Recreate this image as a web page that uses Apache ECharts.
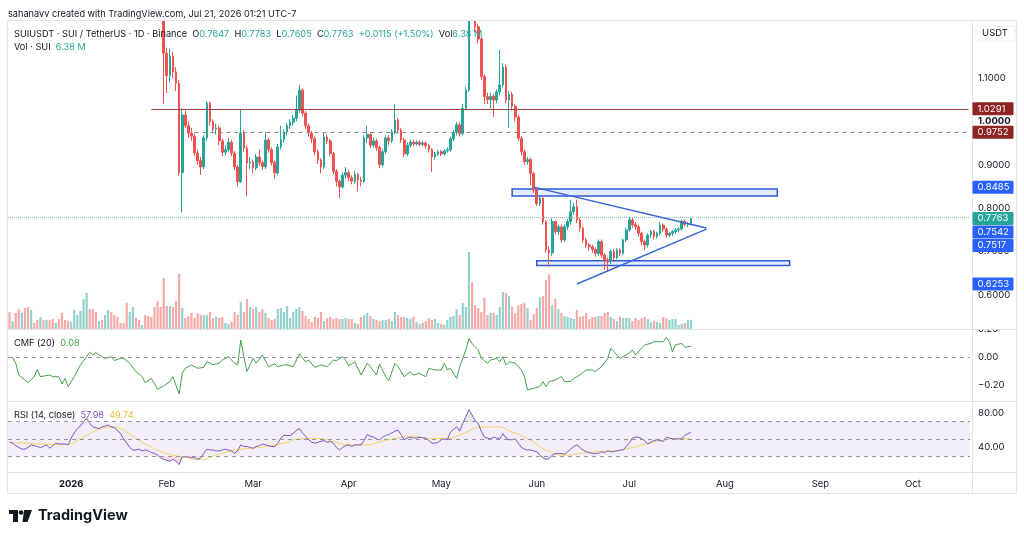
<!DOCTYPE html>
<html>
<head>
<meta charset="utf-8">
<script src="https://cdn.jsdelivr.net/npm/echarts@6/dist/echarts.min.js"></script>
<style>
  html, body { margin: 0; padding: 0; background: #fff; }
  #main { width: 1024px; height: 539px; }
</style>
</head>
<body>
<div id="main"></div>
<script>
// ---- data (daily, from 2025-12-12) ----
const opens = [
  1.640,1.620,1.632,1.600,1.560,1.575,1.540,1.505,1.530,1.520,
  1.505,1.515,1.500,1.512,1.490,1.482,1.500,1.495,1.488,1.485,
  1.478,1.530,1.600,1.660,1.700,1.800,1.880,1.820,1.790,1.775,
  1.785,1.780,1.800,1.830,1.800,1.785,1.750,1.700,1.620,1.540,
  1.560,1.570,1.540,1.520,1.530,1.500,1.480,1.450,1.400,1.350,
  1.290,1.157,1.105,1.150,1.114,1.088,0.882,1.015,0.990,0.973,
  0.966,0.927,0.910,0.895,0.962,1.042,1.000,0.982,0.985,0.955,
  0.929,0.935,0.952,0.927,0.895,0.861,0.973,0.938,0.904,0.906,
  0.893,0.918,0.905,0.896,0.957,0.935,0.905,0.881,0.941,0.958,
  0.975,0.990,0.998,1.007,1.026,1.072,1.019,0.990,0.973,0.960,
  0.930,0.911,0.895,0.964,0.955,0.926,0.885,0.862,0.849,0.876,
  0.882,0.870,0.862,0.878,0.865,0.862,0.962,0.970,0.945,0.955,
  0.940,0.900,0.930,0.962,0.955,0.976,1.003,0.980,0.957,0.925,
  0.945,0.952,0.948,0.952,0.947,0.950,0.944,0.935,0.918,0.925,
  0.930,0.925,0.932,0.935,0.960,0.975,0.992,0.972,1.030,1.072,
  1.270,1.250,1.218,1.190,1.103,1.057,1.050,1.058,1.049,1.068,
  1.084,1.125,1.049,1.062,1.035,1.010,0.961,0.930,0.907,0.912,
  0.880,0.842,0.811,0.823,0.769,0.704,0.697,0.769,0.746,0.757,
  0.727,0.757,0.769,0.792,0.803,0.773,0.754,0.727,0.715,0.711,
  0.705,0.696,0.723,0.692,0.681,0.677,0.700,0.686,0.704,0.696,
  0.727,0.750,0.773,0.762,0.757,0.742,0.723,0.715,0.738,0.746,
  0.735,0.742,0.761,0.752,0.738,0.742,0.746,0.750,0.752,0.770,
  0.762,0.7647
];
const closes = [
  1.620,1.632,1.600,1.560,1.575,1.540,1.505,1.530,1.520,1.505,
  1.515,1.500,1.512,1.490,1.482,1.500,1.495,1.488,1.485,1.478,
  1.530,1.600,1.660,1.700,1.800,1.880,1.820,1.790,1.775,1.785,
  1.780,1.800,1.830,1.800,1.785,1.750,1.700,1.620,1.540,1.560,
  1.570,1.540,1.520,1.530,1.500,1.480,1.450,1.400,1.350,1.290,
  1.157,1.105,1.150,1.114,1.088,0.882,1.015,0.990,0.973,0.966,
  0.927,0.910,0.895,0.962,1.042,1.000,0.982,0.985,0.955,0.929,
  0.935,0.952,0.927,0.895,0.861,0.973,0.938,0.904,0.906,0.893,
  0.918,0.905,0.896,0.957,0.935,0.905,0.881,0.941,0.958,0.975,
  0.990,0.998,1.007,1.026,1.072,1.019,0.990,0.973,0.960,0.930,
  0.911,0.895,0.964,0.955,0.926,0.885,0.862,0.849,0.876,0.882,
  0.870,0.862,0.878,0.865,0.862,0.962,0.970,0.945,0.955,0.940,
  0.900,0.930,0.962,0.955,0.976,1.003,0.980,0.957,0.925,0.945,
  0.952,0.948,0.952,0.947,0.950,0.944,0.935,0.918,0.925,0.930,
  0.925,0.932,0.935,0.960,0.975,0.992,0.972,1.030,1.072,1.270,
  1.250,1.218,1.190,1.103,1.057,1.050,1.058,1.049,1.068,1.084,
  1.125,1.049,1.062,1.035,1.010,0.961,0.930,0.907,0.912,0.880,
  0.842,0.811,0.823,0.769,0.704,0.697,0.769,0.746,0.757,0.727,
  0.757,0.769,0.792,0.803,0.773,0.754,0.727,0.715,0.711,0.705,
  0.696,0.723,0.692,0.681,0.677,0.700,0.686,0.704,0.696,0.727,
  0.750,0.773,0.762,0.757,0.742,0.723,0.715,0.738,0.746,0.735,
  0.742,0.761,0.752,0.738,0.742,0.746,0.750,0.752,0.770,0.762,
  0.7647,0.7763
];
const lows = [
  1.610,1.605,1.590,1.550,1.550,1.530,1.495,1.500,1.510,1.495,
  1.495,1.490,1.495,1.480,1.470,1.478,1.485,1.478,1.475,1.465,
  1.470,1.520,1.590,1.650,1.690,1.790,1.810,1.780,1.760,1.765,
  1.765,1.770,1.795,1.790,1.770,1.740,1.690,1.610,1.530,1.520,
  1.545,1.530,1.510,1.505,1.490,1.470,1.440,1.390,1.340,1.270,
  1.040,1.065,1.090,1.100,1.070,0.875,0.790,0.985,0.962,0.955,
  0.920,0.900,0.877,0.890,0.955,0.990,0.972,0.970,0.945,0.920,
  0.922,0.930,0.920,0.888,0.850,0.858,0.930,0.827,0.890,0.880,
  0.888,0.898,0.888,0.890,0.928,0.898,0.868,0.876,0.935,0.950,
  0.968,0.982,0.990,1.000,1.020,1.012,0.982,0.965,0.950,0.922,
  0.902,0.880,0.890,0.948,0.920,0.878,0.850,0.824,0.845,0.868,
  0.862,0.855,0.856,0.840,0.850,0.858,0.950,0.938,0.940,0.932,
  0.892,0.895,0.925,0.945,0.950,0.970,0.972,0.950,0.918,0.920,
  0.940,0.942,0.944,0.942,0.942,0.938,0.928,0.884,0.912,0.920,
  0.920,0.922,0.928,0.930,0.955,0.968,0.965,0.968,1.025,1.068,
  1.235,1.205,1.180,1.095,1.040,1.040,1.030,1.010,1.042,1.060,
  1.078,1.042,0.985,1.025,1.000,0.955,0.922,0.900,0.900,0.853,
  0.835,0.805,0.805,0.762,0.698,0.665,0.690,0.740,0.738,0.720,
  0.722,0.750,0.762,0.785,0.766,0.746,0.720,0.708,0.702,0.698,
  0.688,0.690,0.686,0.658,0.654,0.672,0.680,0.682,0.690,0.692,
  0.722,0.746,0.755,0.750,0.735,0.716,0.704,0.710,0.732,0.728,
  0.730,0.738,0.746,0.732,0.733,0.736,0.740,0.744,0.748,0.758,
  0.756,0.7605
];
const highs = [
  1.660,1.645,1.640,1.610,1.590,1.585,1.550,1.540,1.540,1.525,
  1.525,1.520,1.520,1.515,1.495,1.505,1.508,1.500,1.495,1.490,
  1.540,1.610,1.670,1.715,1.810,1.900,1.885,1.830,1.800,1.795,
  1.795,1.810,1.845,1.835,1.805,1.790,1.760,1.705,1.625,1.570,
  1.580,1.575,1.545,1.540,1.535,1.505,1.485,1.455,1.405,1.360,
  1.300,1.170,1.168,1.160,1.125,1.095,1.030,1.025,1.000,0.985,
  0.972,0.935,0.918,0.968,1.047,1.045,1.005,0.995,0.990,0.960,
  0.945,0.962,0.958,0.932,0.900,1.026,0.980,0.945,0.918,0.912,
  0.925,0.935,0.910,0.975,0.962,0.940,0.910,0.948,0.990,0.982,
  0.996,1.005,1.015,1.060,1.084,1.076,1.024,0.995,0.978,0.965,
  0.935,0.915,0.975,0.970,0.960,0.930,0.890,0.866,0.882,0.895,
  0.888,0.876,0.886,0.882,0.872,0.968,0.990,0.975,0.962,0.960,
  0.945,0.936,0.968,0.968,0.982,1.040,1.008,0.985,0.962,0.952,
  0.958,0.958,0.956,0.956,0.955,0.954,0.948,0.938,0.930,0.935,
  0.934,0.936,0.940,0.965,0.980,0.998,0.998,1.040,1.080,1.320,
  1.300,1.260,1.225,1.195,1.108,1.066,1.066,1.064,1.074,1.165,
  1.134,1.130,1.070,1.068,1.040,1.015,0.966,0.935,0.918,0.916,
  0.884,0.846,0.830,0.826,0.772,0.712,0.777,0.772,0.762,0.762,
  0.762,0.775,0.819,0.812,0.820,0.778,0.758,0.732,0.720,0.716,
  0.710,0.728,0.728,0.696,0.686,0.704,0.706,0.708,0.708,0.730,
  0.755,0.780,0.778,0.768,0.762,0.746,0.728,0.742,0.750,0.750,
  0.746,0.768,0.765,0.756,0.746,0.750,0.754,0.756,0.774,0.774,
  0.768,0.7783
];
// volume, millions of SUI
const volumes = [
  11.9,5.6,11.2,14.0,11.2,14.7,15.4,13.3,4.2,6.3,
  8.4,6.3,6.3,6.3,7.0,4.2,7.0,11.2,6.3,5.6,
  4.9,13.3,9.8,12.6,21.0,25.2,14.0,14.0,11.9,5.6,
  6.3,9.8,13.3,11.9,9.8,8.4,4.2,4.2,18.2,11.9,
  15.4,7.7,6.3,2.8,9.8,9.1,8.4,15.4,19.6,15.4,
  35.7,16.1,16.1,15.4,19.6,38.5,14.7,7.7,9.1,11.2,
  7.7,11.2,9.8,9.8,9.8,11.9,7.7,8.4,7.7,8.4,
  4.2,3.5,4.9,11.9,9.8,18.9,11.9,21.0,15.4,14.0,
  15.4,11.9,14.0,11.2,7.7,6.3,7.0,14.0,14.7,11.9,
  16.1,7.7,11.9,14.0,15.4,12.6,9.1,7.0,4.9,8.4,
  7.7,11.9,5.6,7.7,8.4,7.0,7.7,7.0,7.0,7.7,
  7.0,7.0,4.2,3.5,8.4,9.8,11.2,9.1,7.0,6.3,
  5.6,6.3,6.3,7.0,5.6,11.9,9.8,8.4,8.4,7.7,
  7.0,8.4,4.9,3.5,4.2,5.6,7.7,6.3,7.0,4.2,
  3.5,2.8,6.3,8.4,9.1,14.0,9.8,18.2,15.4,53.9,
  32.9,16.8,14.7,11.9,21.7,9.8,11.2,11.2,9.8,15.4,
  25.9,25.2,23.1,15.4,11.2,16.8,17.5,18.2,14.7,6.3,
  10.5,14.7,22.4,23.1,34.3,38.5,16.8,21.0,14.0,11.2,
  9.1,8.4,7.7,7.0,13.3,8.4,9.1,11.2,7.0,8.4,
  8.4,9.1,9.1,11.2,11.9,8.4,7.0,5.6,8.4,7.7,
  7.7,7.7,5.6,7.7,6.3,7.7,8.4,7.0,4.9,5.6,
  4.9,4.2,8.4,7.7,6.3,7.0,7.0,2.8,3.5,4.2,
  6.3,6.38
];
// CMF(20): [day index, value]
const cmf = [
  [0,0.0],[1,0.0],[2,-0.04],[3,-0.125],[6,-0.18],[8,-0.137],[9,-0.084],[10,-0.137],[13,-0.125],[14,-0.137],
  [16,-0.137],[17,-0.189],[18,-0.149],[19,-0.208],[21,-0.137],[23,-0.053],[25,0.006],[26,0.037],[27,0.018],[28,0.035],
  [29,0.018],[31,-0.006],[33,0.006],[34,-0.022],[36,-0.006],[37,-0.006],[39,-0.041],[41,-0.101],[43,-0.137],[44,-0.18],
  [46,-0.149],[47,-0.184],[48,-0.227],[50,-0.203],[52,-0.172],[53,-0.137],[54,-0.2],[55,-0.26],[56,-0.113],[57,-0.077],
  [59,-0.053],[61,-0.077],[63,-0.07],[64,-0.03],[66,-0.053],[68,-0.041],[69,-0.018],[71,0.006],[73,-0.041],[74,-0.053],
  [75,0.125],[76,0.006],[77,-0.1],[79,-0.006],[80,-0.041],[82,0.018],[84,-0.065],[86,-0.046],[87,-0.065],[89,-0.053],
  [90,-0.053],[92,-0.065],[94,0.025],[96,-0.03],[97,-0.018],[99,-0.07],[101,-0.053],[103,-0.065],[105,-0.018],[106,-0.022],
  [108,0.006],[109,-0.018],[110,-0.06],[112,-0.03],[114,-0.125],[116,-0.041],[117,-0.065],[119,-0.125],[120,-0.046],[122,-0.137],
  [123,-0.165],[125,-0.041],[126,-0.065],[128,-0.137],[130,-0.101],[131,-0.125],[133,-0.113],[135,-0.137],[136,-0.077],[138,-0.089],
  [140,-0.089],[141,-0.041],[142,-0.089],[143,-0.077],[145,-0.149],[146,-0.065],[148,0.054],[149,0.137],[150,0.101],[152,0.054],
  [153,-0.006],[155,-0.041],[156,-0.018],[158,-0.006],[159,-0.03],[160,0.006],[161,-0.053],[162,-0.03],[164,-0.041],[166,-0.089],
  [167,-0.137],[168,-0.232],[170,-0.22],[172,-0.208],[173,-0.172],[174,-0.208],[175,-0.172],[177,-0.16],[179,-0.137],[180,-0.172],
  [182,-0.172],[183,-0.149],[185,-0.125],[187,-0.089],[189,-0.089],[190,-0.101],[192,-0.065],[194,-0.006],[195,0.066],[196,0.042],
  [198,-0.006],[199,0.006],[201,0.03],[202,0.054],[203,0.018],[205,0.066],[206,0.09],[208,0.101],[209,0.113],[212,0.113],
  [213,0.144],[214,0.113],[215,0.042],[216,0.09],[218,0.101],[219,0.073],[221,0.08]
];
// RSI(14), daily
const rsi = [
  46,45,42,40,38,38,40,43,42,41,
  40,41,43,39,42,45,44,44,44,43,
  51,57,62,65,70,74,68,64,63,62,
  64,65,66,64,63,60,56,50,45,40,
  37,37,38,36,37,36,34,33,31,28,
  26,25,24,26,24,20,29,29,29,28,
  28,26,28,33,38,37,37,36,36,37,
  38,37,36,33,36,43,41,41,40,39,
  41,42,44,43,42,41,41,45,51,54,
  54,54,56,60,62,57,53,49,46,45,
  46,47,48,46,47,45,40,37,40,42,
  43,41,43,43,43,48,55,53,52,50,
  49,52,54,55,57,59,60,55,49,51,
  52,51,51,52,51,51,48,45,45,46,
  49,50,49,58,61,64,59,68,76,84,
  78,71,68,59,52,51,50,52,51,50,
  56,51,49,49,50,45,40,38,37,37,
  36,35,31,28,26,27,31,33,33,33,
  32,35,38,41,43,40,37,35,34,33,
  33,33,35,34,36,35,35,36,37,37,
  41,45,51,52,52,50,48,44,46,48,
  49,48,47,52,51,50,50,50,50,54,
  56,57.98
];
// RSI-based MA: [day index, value]
const rsiMa = [
  [0,46],[5,45],[10,44],[15,43.5],[19,44],[22,48],[25,54],[29,61],[33,64],[36,62],
  [40,53],[45,42],[51,33],[56,29],[62,26],[67,31],[72,36],[78,39],[83,41],[89,45],
  [94,50],[100,50.5],[105,47],[110,43],[116,43],[121,47.5],[126,51],[131,53],[136,50.5],[142,50.5],
  [147,56],[153,64],[158,64],[163,58],[169,48.5],[174,37],[180,31],[185,33],[190,35],[196,36],
  [201,39],[207,44.5],[212,48.5],[217,50.5],[221,49.74]
];
// drawings
const resistance = 1.0291;
const dashedLevel = 0.9752;
const triUpper = [[170, 0.8485], [226, 0.7542]];
const triLower = [[184, 0.6253], [226, 0.7517]];
const boxTop = [[163, 0.844], [249, 0.828]];
const boxBottom = [[171, 0.679], [253, 0.668]];
const monthNames = ['Jan','Feb','Mar','Apr','May','Jun','Jul','Aug','Sep','Oct','Nov','Dec'];

// dates: 2025-12-12 .. 2026-10-19
const dates = [];
const t0 = Date.UTC(2025, 11, 12);
for (let k = 0; k < 312; k++) dates.push(new Date(t0 + k * 864e5).toISOString().slice(0, 10));

const upColor = '#26a69a', downColor = '#ef5350';
const FONT = 'Inter, "Noto Sans", sans-serif';
const last = closes.length - 1;

const candles = opens.map((o, k) => [o, closes[k], lows[k], highs[k]]);
const volData = volumes.map((v, k) => ({
  value: v,
  itemStyle: { color: closes[k] >= opens[k] ? 'rgba(38,166,154,0.5)' : 'rgba(239,83,80,0.5)' }
}));
// overbought / oversold fills
const rsiHigh = rsi.map(v => Math.max(v, 70));
const rsiLow = rsi.map(v => Math.min(v, 30));

const L = 8, R = 54;
function xAx(idx, extra) {
  return Object.assign({
    type: 'category', gridIndex: idx, data: dates, boundaryGap: true,
    axisLine: { show: false }, axisTick: { show: false }, axisLabel: { show: false }, splitLine: { show: false }
  }, extra || {});
}
const yLabel = { color: '#131722', fontSize: 9.5, fontFamily: FONT, margin: 8 };

const chart = echarts.init(document.getElementById('main'));
chart.setOption({
  animation: false,
  backgroundColor: '#fff',
  grid: [
    { left: L, right: R, top: 20, height: 318.4 },
    { left: L, right: R, top: 229, height: 100 },
    { left: L, right: R, top: 329.5, height: 84 },
    { left: L, right: R, top: 401, height: 80.7 },
    { left: L, right: R, top: 472, height: 1 }
  ],
  xAxis: [
    xAx(0), xAx(1), xAx(2), xAx(3),
    xAx(4, {
      axisLabel: {
        show: true, margin: 6, color: '#131722', fontSize: 9.5, fontFamily: FONT,
        interval: (i, v) => v.slice(8) === '01',
        formatter: v => {
          const m = +v.slice(5, 7);
          return m === 1 ? '{b|' + v.slice(0, 4) + '}' : monthNames[m - 1];
        },
        rich: { b: { fontWeight: 'bold', fontSize: 9.5, color: '#131722', fontFamily: FONT } }
      }
    })
  ],
  yAxis: [
    {
      type: 'value', gridIndex: 0, position: 'right', min: 0.5, max: 1.2336, interval: 0.1,
      axisLine: { show: false }, axisTick: { show: false }, splitLine: { show: false },
      axisLabel: Object.assign({}, yLabel, {
        formatter: v => {
          if (v < 0.55 || v > 1.15) return '';
          const s = v.toFixed(4);
          return Math.abs(v - 1) < 1e-9 ? '{b|' + s + '}' : s;
        },
        rich: { b: { fontWeight: 'bold', fontSize: 9.5, color: '#131722', fontFamily: FONT } }
      })
    },
    { type: 'value', gridIndex: 1, min: 0, max: 70, show: false },
    {
      type: 'value', gridIndex: 2, position: 'right', min: -0.4, max: 0.2, interval: 0.2,
      axisLine: { show: false }, axisTick: { show: false }, splitLine: { show: false },
      axisLabel: Object.assign({}, yLabel, {
        formatter: v => v < -0.3 ? '' : (v < 0 ? '\u2212' : '') + Math.abs(v).toFixed(2)
      })
    },
    {
      type: 'value', gridIndex: 3, position: 'right', min: 0, max: 94.2, interval: 40,
      axisLine: { show: false }, axisTick: { show: false }, splitLine: { show: false },
      axisLabel: Object.assign({}, yLabel, { formatter: v => (v < 10 || v > 90) ? '' : v.toFixed(2) })
    },
    { type: 'value', gridIndex: 4, min: 0, max: 1, show: false }
  ],
  series: [
    {
      type: 'bar', name: 'Vol', xAxisIndex: 1, yAxisIndex: 1, data: volData,
      barWidth: '70%', z: 1
    },
    {
      type: 'candlestick', name: 'SUIUSDT', xAxisIndex: 0, yAxisIndex: 0, data: candles,
      barWidth: '68%', clip: true, z: 3,
      itemStyle: { color: upColor, color0: downColor, borderColor: upColor, borderColor0: downColor, borderWidth: 1 },
      markArea: {
        silent: true,
        itemStyle: { color: 'rgba(41,98,255,0.12)', borderColor: '#2e5bd8', borderWidth: 1.5 },
        data: [
          [{ coord: boxTop[0] }, { coord: boxTop[1] }],
          [{ coord: boxBottom[0] }, { coord: boxBottom[1] }]
        ]
      },
      markLine: {
        silent: true, symbol: ['none', 'none'], label: { show: false },
        data: [
          { yAxis: closes[last], lineStyle: { type: 'dotted', color: '#8fb9b3', width: 1 } },
          [{ coord: [46, resistance], lineStyle: { type: 'solid', color: '#a34444', width: 1 } }, { coord: [311, resistance] }],
          [{ coord: [60, dashedLevel], lineStyle: { type: [4, 4], color: '#8a8a8a', width: 1 } }, { coord: [311, dashedLevel] }],
          [{ coord: triUpper[0], lineStyle: { type: 'solid', color: '#3a66d6', width: 1.5 } }, { coord: triUpper[1] }],
          [{ coord: triLower[0], lineStyle: { type: 'solid', color: '#3a66d6', width: 1.5 } }, { coord: triLower[1] }]
        ]
      }
    },
    {
      type: 'line', name: 'CMF', xAxisIndex: 2, yAxisIndex: 2, data: cmf,
      showSymbol: false, lineStyle: { color: '#43a047', width: 1 },
      markLine: {
        silent: true, symbol: ['none', 'none'], label: { show: false },
        lineStyle: { type: [4, 4], color: '#9598a1', width: 1 },
        data: [{ yAxis: 0 }]
      }
    },
    {
      type: 'line', name: 'RSI OB', xAxisIndex: 3, yAxisIndex: 3, data: rsiHigh,
      showSymbol: false, silent: true, lineStyle: { width: 0 },
      areaStyle: { origin: 70, color: 'rgba(76,175,80,0.28)' }, z: 1
    },
    {
      type: 'line', name: 'RSI OS', xAxisIndex: 3, yAxisIndex: 3, data: rsiLow,
      showSymbol: false, silent: true, lineStyle: { width: 0 },
      areaStyle: { origin: 30, color: 'rgba(242,54,69,0.22)' }, z: 1
    },
    {
      type: 'line', name: 'RSI', xAxisIndex: 3, yAxisIndex: 3, data: rsi,
      showSymbol: false, lineStyle: { color: '#7e57c2', width: 1 }, z: 3,
      markArea: {
        silent: true, itemStyle: { color: 'rgba(126,87,194,0.10)' },
        data: [[{ yAxis: 30 }, { yAxis: 70 }]]
      },
      markLine: {
        silent: true, symbol: ['none', 'none'], label: { show: false },
        lineStyle: { type: [4, 4], color: '#9598a1', width: 1 },
        data: [{ yAxis: 70 }, { yAxis: 50 }, { yAxis: 30 }]
      }
    },
    {
      type: 'line', name: 'RSI MA', xAxisIndex: 3, yAxisIndex: 3, data: rsiMa,
      smooth: true, showSymbol: false, lineStyle: { color: '#f5d25a', width: 1 }, z: 2
    }
  ]
});

// ---- overlay: frame, legends, price tags ----
const border = '#e0e3eb';
const g = [];
// hide candle parts that overflow above the price pane, and top half of the CMF 0.20 label
g.push({ type: 'rect', shape: { x: 0, y: 0, width: 1024, height: 20 }, style: { fill: '#fff' }, z: 40 });
g.push({ type: 'rect', shape: { x: 973, y: 321, width: 44, height: 8.5 }, style: { fill: '#fff' }, z: 40 });
g.push({ type: 'rect', shape: { x: 7.5, y: 20.5, width: 1009, height: 473 }, style: { fill: 'none', stroke: border, lineWidth: 1 }, z: 50 });
[329.5, 401.5, 472.5].forEach(y => g.push({ type: 'line', shape: { x1: 8, y1: y, x2: 1016, y2: y }, style: { stroke: border, lineWidth: 1 }, z: 50 }));
g.push({ type: 'line', shape: { x1: 972.5, y1: 20, x2: 972.5, y2: 493 }, style: { stroke: border, lineWidth: 1 }, z: 50 });

const F = '9.2px ' + FONT;
const txt = (x, y, text, rich) => ({
  type: 'text', x: x, y: y, z: 60,
  style: { text: text, rich: rich, font: F, fill: '#131722', verticalAlign: 'middle' }
});

g.push(txt(8, 14, 'sahanavv created with TradingView.com, Jul 21, 2026 01:21 UTC-7', null));
const hv = { k: { fill: '#131722', font: F }, v: { fill: upColor, font: F } };
g.push(txt(14, 34,
  'SUIUSDT · SUI / TetherUS · 1D · Binance  {k|O}{v|' + opens[last].toFixed(4) + '}  {k|H}{v|' + highs[last].toFixed(4) +
  '}  {k|L}{v|' + lows[last].toFixed(4) + '}  {k|C}{v|' + closes[last].toFixed(4) + '}  {v|+0.0115 (+1.50%)}  {k|Vol}{v|' +
  volumes[last].toFixed(2) + ' M}', hv));
g.push(txt(14, 47, 'Vol · SUI  {v|' + volumes[last].toFixed(2) + ' M}', hv));
g.push(txt(14, 343, 'CMF (20)  {c|' + cmf[cmf.length - 1][1].toFixed(2) + '}',
  { c: { fill: '#43a047', font: F } }));
g.push(txt(14, 415, 'RSI (14, close)  {p|' + rsi[last].toFixed(2) + '}  {y|' + rsiMa[rsiMa.length - 1][1].toFixed(2) + '}',
  { p: { fill: '#7e57c2', font: F }, y: { fill: '#e8c33a', font: F } }));

g.push({ type: 'rect', shape: { x: 975, y: 26, width: 40, height: 15, r: 2 }, style: { fill: '#fff', stroke: '#eceef2' }, z: 55 });
g.push({ type: 'text', x: 995, y: 33.5, z: 60, style: { text: 'USDT', font: '9.5px ' + FONT, fill: '#131722', align: 'center', verticalAlign: 'middle' } });

// price tags on the right scale, stacked like TradingView
const tags = [
  { value: resistance, bg: '#8e2424' },
  { value: dashedLevel, bg: '#8e2424' },
  { value: triUpper[0][1], bg: '#2962ff' },
  { value: closes[last], bg: upColor },
  { value: triUpper[1][1], bg: '#2962ff' },
  { value: triLower[1][1], bg: '#2962ff' },
  { value: triLower[0][1], bg: '#2962ff' }
].map(t => Object.assign(t, { y: chart.convertToPixel({ yAxisIndex: 0 }, t.value) }));
tags.sort((a, b) => a.y - b.y);
for (let k = 1; k < tags.length; k++) if (tags[k].y < tags[k - 1].y + 13.5) tags[k].y = tags[k - 1].y + 13.5;
tags.forEach(t => {
  g.push({ type: 'rect', shape: { x: 972.5, y: t.y - 6.5, width: 41, height: 13, r: 1 }, style: { fill: t.bg }, z: 70 });
  g.push({ type: 'text', x: 977.5, y: t.y, z: 71, style: { text: t.value.toFixed(4), font: '9.5px ' + FONT, fill: '#fff', verticalAlign: 'middle' } });
});

// TradingView logo
g.push({ type: 'rect', shape: { x: 9, y: 510, width: 9, height: 4 }, style: { fill: '#131722' }, z: 60 });
g.push({ type: 'rect', shape: { x: 13, y: 510, width: 5, height: 12 }, style: { fill: '#131722' }, z: 60 });
g.push({ type: 'circle', shape: { cx: 21, cy: 512.5, r: 2.3 }, style: { fill: '#131722' }, z: 60 });
g.push({ type: 'polygon', shape: { points: [[24, 510], [32, 510], [27.5, 522], [22.5, 522]] }, style: { fill: '#131722' }, z: 60 });
g.push({ type: 'text', x: 38, y: 516, z: 60, style: { text: 'TradingView', font: 'bold 14.5px ' + FONT, fill: '#131722', verticalAlign: 'middle' } });

chart.setOption({ graphic: g });
</script>
</body>
</html>
